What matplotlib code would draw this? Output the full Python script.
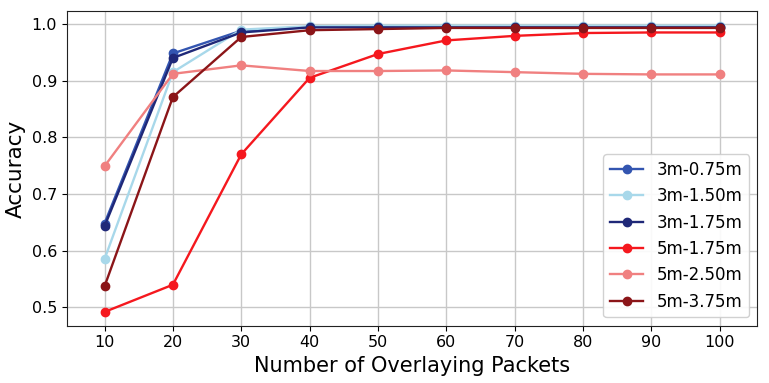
import matplotlib
matplotlib.use("Agg")
import matplotlib.pyplot as plt

x = [10, 20, 30, 40, 50, 60, 70, 80, 90, 100]
labels = ["3m-0.75m", "3m-1.50m", "3m-1.75m", "5m-1.75m", "5m-2.50m", "5m-3.75m"]
s_3m_075 = [0.648, 0.948, 0.988, 0.995, 0.995, 0.995, 0.995, 0.995, 0.995, 0.995]
s_3m_150 = [0.585, 0.915, 0.990, 0.996, 0.997, 0.997, 0.997, 0.997, 0.997, 0.997]
s_3m_175 = [0.643, 0.940, 0.985, 0.994, 0.994, 0.994, 0.994, 0.994, 0.994, 0.994]
s_5m_175 = [0.492, 0.540, 0.770, 0.905, 0.947, 0.971, 0.979, 0.984, 0.985, 0.985]
s_5m_250 = [0.749, 0.912, 0.927, 0.917, 0.917, 0.918, 0.915, 0.912, 0.911, 0.911]
s_5m_375 = [0.537, 0.871, 0.977, 0.989, 0.991, 0.993, 0.993, 0.993, 0.993, 0.993]
series = [s_3m_075, s_3m_150, s_3m_175, s_5m_175, s_5m_250, s_5m_375]
colors = ["#3355b0", "#a8d8ea", "#1f2878", "#f5181e", "#f08080", "#8b1518"]

fig, ax = plt.subplots(figsize=(7.69, 3.83), dpi=100)
for ys, lab, c in zip(series, labels, colors):
    ax.plot(x, ys, marker="o", markersize=6, linewidth=1.7, color=c, label=lab)

ax.set_xticks(x)
ax.set_yticks([0.5, 0.6, 0.7, 0.8, 0.9, 1.0])
ax.set_xlim(4.5, 105.5)
ax.set_ylim(0.468, 1.022)
ax.grid(True, color="#c8c8c8", linewidth=1)
ax.set_axisbelow(True)
ax.tick_params(labelsize=11.5)
ax.set_xlabel("Number of Overlaying Packets", fontsize=15)
ax.set_ylabel("Accuracy", fontsize=15.5)
for sp in ax.spines.values():
    sp.set_color("#222222")
ax.legend(loc="lower right", fontsize=12, framealpha=0.9)
fig.subplots_adjust(left=0.087, right=0.985, top=0.97, bottom=0.15)
fig.savefig("out.png", dpi=100)
